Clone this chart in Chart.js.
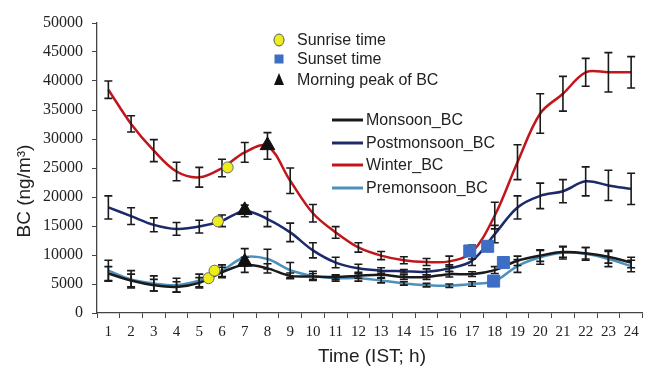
<!DOCTYPE html>
<html lang="en">
<head>
  <meta charset="utf-8">
  <title>Diurnal BC by season</title>
  <script src="https://cdn.jsdelivr.net/npm/chart.js"></script>
  <style>
    html, body {
      margin: 0;
      padding: 0;
      background: #fff;
      overflow: hidden;
    }

    .wrap {
      position: relative;
      width: 652px;
      height: 368px;
    }
  </style>
</head>
<body>

<div class="wrap">
  <canvas id="bcChart"></canvas>
</div>

<script>
  // hour of day (IST)
  const hours = [1, 2, 3, 4, 5, 6, 7, 8, 9, 10, 11, 12, 13, 14, 15, 16, 17, 18, 19, 20, 21, 22, 23, 24];

  // seasonal BC means (ng/m3) and their error bars
  const monsoonBC     = [6800, 5600, 4800, 4500, 5200, 7000, 8300, 7700, 6400, 6300, 6200, 6400, 6600, 6200, 6200, 6700, 6700, 7400, 9000, 9900, 10500, 10300, 9700, 8700];
  const monsoonErr    = [1200, 1100, 1000, 900, 900, 900, 1300, 800, 500, 500, 400, 400, 500, 400, 400, 500, 400, 600, 800, 1000, 900, 1000, 1100, 900];
  const postmonsoonBC  = [18200, 16700, 15200, 14500, 14900, 15900, 17600, 16200, 13900, 10800, 8700, 7700, 7300, 7200, 7100, 7700, 9000, 13600, 18200, 20200, 21000, 22700, 22000, 21400];
  const postmonsoonErr = [2000, 1450, 1200, 1100, 1100, 1000, 1000, 1300, 1600, 1300, 900, 700, 500, 300, 500, 600, 800, 1500, 2000, 2200, 2000, 2500, 2600, 2700];
  const winterBC      = [38500, 32600, 28000, 24400, 23400, 25000, 27700, 28800, 22800, 17200, 13900, 11300, 9900, 9100, 8800, 8900, 10500, 16800, 26000, 34400, 37800, 41500, 41500, 41500];
  const winterErr     = [1500, 1400, 1900, 1600, 1700, 1500, 1700, 2300, 2200, 1500, 1000, 800, 700, 600, 600, 900, 1200, 2300, 3000, 3400, 3000, 2400, 3400, 2700];
  const premonsoonBC  = [7300, 5800, 5100, 4800, 5600, 7300, 9600, 9300, 7400, 6400, 6000, 6000, 5600, 5100, 4800, 4700, 5000, 5500, 8100, 9600, 10400, 10200, 9300, 8100];
  const premonsoonErr = [1800, 1500, 1300, 1200, 1100, 1000, 1500, 1700, 1300, 800, 500, 500, 400, 300, 300, 300, 400, 600, 1100, 1200, 1100, 1100, 1300, 1000];

  // event markers (hour, BC)
  const sunriseHour = [5.41, 5.67, 5.82, 6.25];
  const sunriseBC   = [6000, 7300, 15800, 25100];
  const sunsetHour  = [16.9, 17.69, 17.95, 18.38];
  const sunsetBC    = [10700, 11500, 5500, 8700];
  const peakHour    = [7, 7, 8];
  const peakBC      = [8800, 17700, 28900];

  const yTicks = [0, 5000, 10000, 15000, 20000, 25000, 30000, 35000, 40000, 45000, 50000];

  const toXY = (xs, ys) => xs.map((x, i) => ({ x: x, y: ys[i] }));

  function lineSet(label, values, errors, color) {
    return {
      type: 'line',
      label: label,
      data: toXY(hours, values),
      errors: errors,
      borderColor: color,
      borderWidth: 2.5,
      pointRadius: 0,
      tension: 0.35,
      fill: false
    };
  }

  // error bars drawn right after each line
  const errorBars = {
    id: 'errorBars',
    afterDatasetDraw(chart, args) {
      const ds = chart.data.datasets[args.index];
      if (!ds.errors) return;
      const ctx = chart.ctx;
      const xs = chart.scales.x, ys = chart.scales.y;
      ctx.save();
      ctx.strokeStyle = '#1a1a1a';
      ctx.lineWidth = 1.6;
      ds.data.forEach((p, i) => {
        const px = xs.getPixelForValue(p.x);
        const top = ys.getPixelForValue(p.y + ds.errors[i]);
        const bot = ys.getPixelForValue(p.y - ds.errors[i]);
        ctx.beginPath();
        ctx.moveTo(px, top); ctx.lineTo(px, bot);
        ctx.moveTo(px - 4, top); ctx.lineTo(px + 4, top);
        ctx.moveTo(px - 4, bot); ctx.lineTo(px + 4, bot);
        ctx.stroke();
      });
      ctx.restore();
    }
  };

  // axis titles and the two legends
  const decorations = {
    id: 'decorations',
    afterDraw(chart) {
      const ctx = chart.ctx;
      ctx.save();
      ctx.fillStyle = '#222';
      ctx.textBaseline = 'middle';

      ctx.font = '19px "Liberation Sans", Arial, sans-serif';
      ctx.textAlign = 'center';
      ctx.fillText('Time (IST; h)', 372, 357);
      ctx.save();
      ctx.translate(25, 191);
      ctx.rotate(-Math.PI / 2);
      ctx.fillText('BC (ng/m³)', 0, 0);
      ctx.restore();

      ctx.font = '16px "Liberation Sans", Arial, sans-serif';
      ctx.textAlign = 'left';

      // marker legend
      ctx.beginPath();
      ctx.ellipse(279, 40, 5, 6, 0, 0, Math.PI * 2);
      ctx.fillStyle = '#eded1e';
      ctx.fill();
      ctx.strokeStyle = '#555';
      ctx.lineWidth = 1;
      ctx.stroke();
      ctx.fillStyle = '#3d6ec4';
      ctx.fillRect(274.5, 54.5, 9, 9);
      ctx.fillStyle = '#111';
      ctx.beginPath();
      ctx.moveTo(279, 73); ctx.lineTo(284, 85); ctx.lineTo(274, 85); ctx.closePath();
      ctx.fill();

      ctx.fillStyle = '#222';
      ctx.fillText('Sunrise time', 297, 41);
      ctx.fillText('Sunset time', 297, 60);
      ctx.fillText('Morning peak of BC', 297, 81);

      // series legend
      const items = [
        ['Monsoon_BC', '#1a1a1a', 120],
        ['Postmonsoon_BC', '#1c2a6b', 143],
        ['Winter_BC', '#c0161c', 165],
        ['Premonsoon_BC', '#4d90bd', 188]
      ];
      items.forEach(([text, color, y]) => {
        ctx.strokeStyle = color;
        ctx.lineWidth = 3;
        ctx.beginPath();
        ctx.moveTo(332, y); ctx.lineTo(363, y);
        ctx.stroke();
        ctx.fillStyle = '#222';
        ctx.fillText(text, 366, y + 1);
      });
      ctx.restore();
    }
  };

  new Chart(document.getElementById('bcChart'), {
    type: 'scatter',
    data: {
      datasets: [
        {
          label: 'Morning peak of BC',
          data: toXY(peakHour, peakBC),
          pointStyle: 'triangle',
          pointRadius: 8.5,
          backgroundColor: '#111',
          borderColor: '#111',
          borderWidth: 1
        },
        {
          label: 'Sunset time',
          data: toXY(sunsetHour, sunsetBC),
          pointStyle: 'rect',
          pointRadius: 8.5,
          backgroundColor: '#3d6ec4',
          borderColor: '#3d6ec4',
          borderWidth: 1
        },
        {
          label: 'Sunrise time',
          data: toXY(sunriseHour, sunriseBC),
          pointStyle: 'circle',
          pointRadius: 5.5,
          backgroundColor: '#eded1e',
          borderColor: '#666',
          borderWidth: 1
        },
        lineSet('Winter_BC', winterBC, winterErr, '#c0161c'),
        lineSet('Postmonsoon_BC', postmonsoonBC, postmonsoonErr, '#1c2a6b'),
        lineSet('Monsoon_BC', monsoonBC, monsoonErr, '#1a1a1a'),
        lineSet('Premonsoon_BC', premonsoonBC, premonsoonErr, '#4d90bd')
      ]
    },
    options: {
      responsive: true,
      maintainAspectRatio: false,
      animation: false,
      layout: { padding: { top: 23, right: 3, left: 0, bottom: 0 } },
      plugins: {
        legend: { display: false },
        tooltip: { enabled: false }
      },
      scales: {
        x: {
          type: 'linear',
          min: 0.5,
          max: 24.5,
          afterFit: s => { s.height = 55; },
          border: { color: '#444', width: 1.3 },
          grid: {
            drawOnChartArea: false,
            tickLength: 5,
            color: c => (c.tick && c.tick.value % 1 !== 0) ? '#444' : 'rgba(0,0,0,0)'
          },
          ticks: {
            stepSize: 0.5,
            autoSkip: false,
            maxRotation: 0,
            minRotation: 0,
            padding: 5,
            color: '#222',
            font: { family: '"Liberation Serif", "Times New Roman", serif', size: 15 },
            callback: v => (v % 1 === 0 ? String(hours[v - 1]) : '')
          }
        },
        y: {
          min: 0,
          max: 50000,
          afterFit: s => { s.width = 97; },
          afterBuildTicks: s => { s.ticks = yTicks.map(v => ({ value: v })); },
          border: { color: '#444', width: 1.3 },
          grid: { drawOnChartArea: false, tickLength: 5, color: '#444' },
          ticks: {
            padding: 9,
            color: '#222',
            font: { family: '"Liberation Serif", "Times New Roman", serif', size: 16 },
            callback: v => String(v)
          }
        }
      }
    },
    plugins: [errorBars, decorations]
  });
</script>

</body>
</html>
